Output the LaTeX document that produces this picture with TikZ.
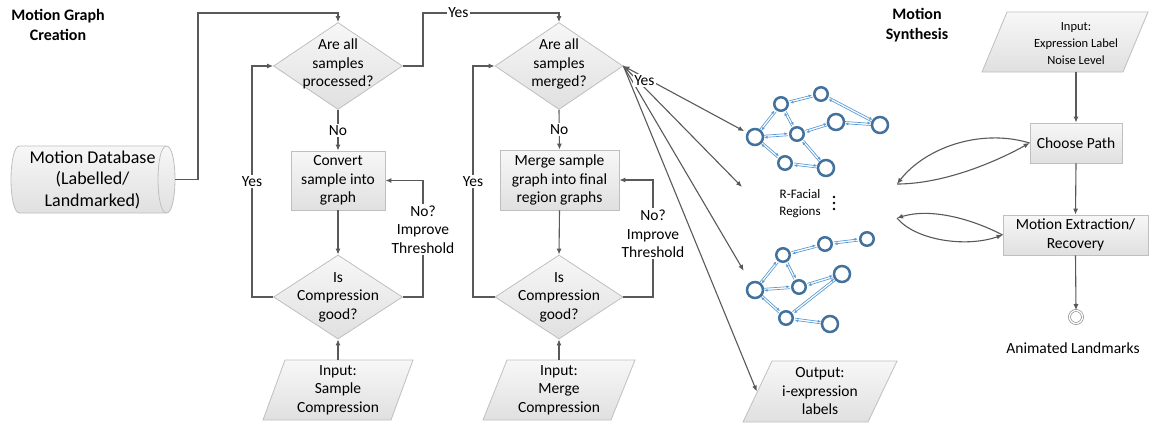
\documentclass[tikz,border=0pt]{standalone}
\usepackage{fontspec}
\setmainfont{Carlito}
\usetikzlibrary{shapes.geometric,arrows.meta,calc,backgrounds}

\definecolor{linec}{RGB}{89,89,89}
\definecolor{edgec}{RGB}{191,191,191}
\definecolor{shtop}{RGB}{247,247,247}
\definecolor{shbot}{RGB}{224,224,224}
\definecolor{gring}{RGB}{65,113,156}
\definecolor{glink}{RGB}{91,155,213}

\newcommand\fmain{\fontsize{15.5pt}{18.5pt}\selectfont}
\newcommand\fbig{\fontsize{18pt}{21.5pt}\selectfont}
\newcommand\fsmall{\fontsize{12.5pt}{17pt}\selectfont}
\newcommand\fregion{\fontsize{13pt}{17pt}\selectfont}
\newcommand\ftitle{\fontsize{16pt}{19.5pt}\selectfont\bfseries}

% parallelogram: centre x, centre y, half width, half slant, half height
\newcommand\parashape[5]{%
  \path[shp] ({#1-#3-#4},{#2+#5}) -- ({#1+#3-#4},{#2+#5})
    -- ({#1+#3+#4},{#2-#5}) -- ({#1-#3+#4},{#2-#5}) -- cycle;}

% two-way link between graph vertices
\newcommand\gedge[2]{%
  \draw[glk] ($(#1)!1.1pt!90:(#2)$) -- ($(#2)!1.1pt!-90:(#1)$);
  \draw[glk] ($(#2)!1.1pt!90:(#1)$) -- ($(#1)!1.1pt!-90:(#2)$);}

\begin{document}
\begin{tikzpicture}[x=1pt,y=-1pt,
  every node/.style={font=\fmain, align=center, text=black},
  conn/.style={draw=linec, line width=1.1pt, -{Latex[length=6pt,width=5pt]}},
  shp/.style={draw=edgec, line width=0.8pt, top color=shtop, bottom color=shbot},
  box/.style={shp, rectangle, inner sep=2pt},
  dia/.style={shp, diamond, inner sep=0pt},
  lbl/.style={fill=white, inner sep=1.5pt},
  ptext/.style={inner sep=0pt, minimum width=126pt, minimum height=60pt},
  vbig/.style={circle, draw=gring, line width=2.5pt, fill=white, minimum size=16pt, inner sep=0pt},
  vsmall/.style={vbig, minimum size=13.5pt},
  glk/.style={draw=glink, line width=0.7pt, shorten <=9pt, shorten >=9pt,
    -{Latex[length=3.5pt,width=3pt]}}]

\useasboundingbox (0,0) rectangle (1167,424);

% ---------- titles ----------
\node[font=\ftitle] (t1) at (58,25) {Motion Graph\\Creation};
\node[font=\ftitle] (t2) at (917,25) {Motion\\Synthesis};

% ---------- motion graph creation ----------
% database drum, lying on its side
\path[shp] (19.5,146) -- (166.5,146)
  .. controls (177.8,146) and (177.8,213) .. (166.5,213) -- (19.5,213)
  .. controls (8.2,213) and (8.2,146) .. (19.5,146) -- cycle;
\draw[edgec, line width=0.8pt] (166.5,146) .. controls (155.2,146) and (155.2,213) .. (166.5,213);
\node[inner sep=0pt, minimum width=165pt, minimum height=67pt, font=\fbig] (db) at (92.5,179.5)
  {Motion Database\\(Labelled/\\Landmarked)};

\node[dia, minimum width=129pt, minimum height=87pt,
  label={[font=\fmain,align=center,yshift=2pt]center:Are all\\samples\\processed?}] (d1) at (338,66) {};
\node[box, minimum width=94pt, minimum height=59pt] (b1) at (338,180.5) {Convert\\sample into\\graph};
\node[dia, minimum width=129pt, minimum height=84pt,
  label={[font=\fmain,align=center]center:Is\\Compression\\good?}] (d2) at (338,297) {};
\parashape{338}{390}{64}{11}{30}
\node[ptext] (in1) at (338,390) {Input:\\Sample\\Compression};

\node[dia, minimum width=128pt, minimum height=87pt,
  label={[font=\fmain,align=center,yshift=2pt]center:Are all\\samples\\merged?}] (d3) at (559,66) {};
\node[box, minimum width=119pt, minimum height=60pt] (b2) at (559.5,180) {Merge sample\\graph into final\\region graphs};
\node[dia, minimum width=128pt, minimum height=84pt,
  label={[font=\fmain,align=center]center:Is\\Compression\\good?}] (d4) at (559,297) {};
\parashape{559}{390}{64}{12}{30}
\node[ptext] (in2) at (559,390) {Input:\\Merge\\Compression};

\coordinate (ta) at (198,13);
\coordinate (tb) at (423,13);
\coordinate (tc) at (559,13);
\coordinate (ya) at (252,297);
\coordinate (na) at (423,297);
\coordinate (yb) at (473,297);
\coordinate (nb) at (653,297);

\draw[conn] (db.east) -| (ta) -| (d1.north);
\draw[conn] (d1.south) -- node[lbl]{No} (b1.north);
\draw[conn] (b1.south) -- (d2.north);
\draw[conn] (in1.north) -- (d2.south);
\draw[conn] (d2.west) -- (ya) |- node[lbl,pos=0.25]{Yes} (d1.west);
\draw[conn] (d2.east) -- (na) |- node[lbl,pos=0.29]{No?\\Improve\\Threshold} (b1.east);
\draw[conn] (d1.east) -| (tb) -- node[lbl,pos=0.26]{Yes} (tc) -- (d3.north);

\draw[conn] (d3.south) -- node[lbl]{No} (b2.north);
\draw[conn] (b2.south) -- (d4.north);
\draw[conn] (in2.north) -- (d4.south);
\draw[conn] (d4.west) -- (yb) |- node[lbl,pos=0.25]{Yes} (d3.west);
\draw[conn] (d4.east) -- (nb) |- node[lbl,pos=0.27]{No?\\Improve\\Threshold} (b2.east);

% ---------- facial region graphs ----------
\node[vbig]   (gA) at (755,137) {};
\node[vsmall] (gB) at (781,104) {};
\node[vsmall] (gC) at (821,94) {};
\node[vsmall] (gD) at (797,134) {};
\node[vbig]   (gE) at (836,122) {};
\node[vbig]   (gF) at (880,125) {};
\node[vsmall] (gG) at (785,163) {};
\node[vbig]   (gH) at (826,168) {};

\node[vbig]   (gP) at (755,290) {};
\node[vsmall] (gQ) at (783,255) {};
\node[vsmall] (gR) at (825,244) {};
\node[vsmall] (gS) at (867,239) {};
\node[vsmall] (gT) at (799,287) {};
\node[vbig]   (gU) at (842,274) {};
\node[vsmall] (gV) at (786,318) {};
\node[vbig]   (gW) at (830,324) {};

\begin{pgfonlayer}{background}
  \gedge{gA}{gB} \gedge{gA}{gD} \gedge{gA}{gG} \gedge{gB}{gD} \gedge{gB}{gC}
  \gedge{gD}{gE} \gedge{gD}{gH} \gedge{gG}{gH} \gedge{gC}{gF} \gedge{gE}{gF}
  \gedge{gP}{gQ} \gedge{gP}{gT} \gedge{gP}{gV} \gedge{gQ}{gT} \gedge{gQ}{gR}
  \gedge{gR}{gS} \gedge{gT}{gU} \gedge{gV}{gU} \gedge{gV}{gW}
\end{pgfonlayer}

\node[font=\fregion] (rf) at (800,203.5) {R-Facial\\Regions};
\fill[black] (834,197) circle[radius=1.3pt] (834,203) circle[radius=1.3pt] (834,209) circle[radius=1.3pt];

\parashape{820}{391.5}{62.5}{14.5}{30.5}
\node[ptext] (out) at (820,391.5) {Output:\\i-expression\\labels};

\coordinate (rfin) at (742,187);
\draw[conn] (d3.east) -- (rfin);
\draw[conn, shorten >=13pt] (d3.east) -- (gP);
\draw[conn] (d3.east) -- (out.west);
\draw[conn, {Latex[length=6pt,width=5pt]}-{Latex[length=6pt,width=5pt]}, shorten >=3pt]
  (d3.east) -- node[lbl,pos=0.17,yshift=-3pt]{Yes} (gA);

% ---------- motion synthesis ----------
\parashape{1065}{42}{70.5}{12.5}{30}
\node[inner sep=0pt, minimum width=110pt, minimum height=57pt, font=\fsmall] (inE) at (1076,43.5)
  {Input:\\Expression Label\\Noise Level};
\node[box, minimum width=92pt, minimum height=40pt] (cp) at (1076,143) {Choose Path};
\node[box, minimum width=145pt, minimum height=40pt] (me) at (1075.5,235) {Motion Extraction/\\Recovery};
\node[circle, draw=linec!80, double=white, double distance=1.4pt, line width=0.6pt,
  minimum size=13pt, inner sep=0pt] (endc) at (1076,317) {};
\node (al) at (1073,348) {Animated Landmarks};

\draw[conn] (inE.south) -- (cp.north);
\draw[conn] (cp.south) -- (me.north);
\draw[conn] (me.south) -- (endc.north);

\coordinate (la) at (897,184);
\coordinate (lb) at (897,218);
\draw[conn] (cp.west) .. controls (980,128) and (925,148) .. (la);
\draw[conn] (la) .. controls (940,184) and (990,165) .. (cp.west);
\draw[conn] (me.west) .. controls (970,218) and (930,208) .. (lb);
\draw[conn] (lb) .. controls (915,240) and (965,248) .. (me.west);

\end{tikzpicture}
\end{document}
